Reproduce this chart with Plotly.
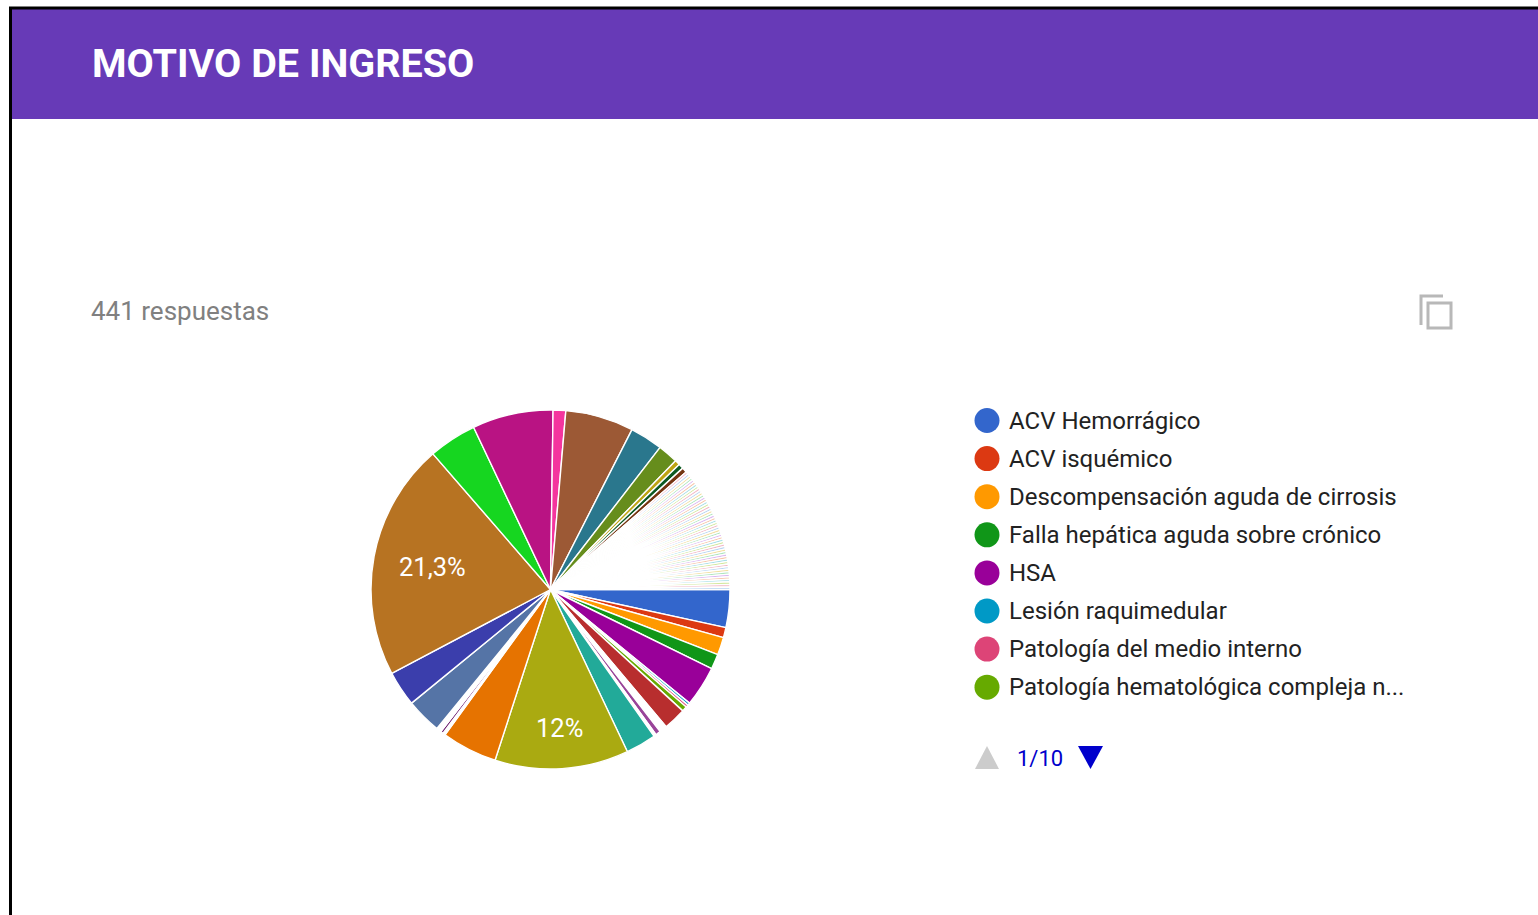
import math
import plotly.graph_objects as go

TITLE = "MOTIVO DE INGRESO"
RESPONSES = "441 respuestas"
PAGER = "1/10"

# Named legend entries (first page of ten)
legend_labels = ["ACV Hemorrágico", "ACV isquémico", "Descompensación aguda de cirrosis",
                 "Falla hepática aguda sobre crónico", "HSA", "Lesión raquimedular",
                 "Patología del medio interno", "Patología hematológica compleja n..."]
legend_colors = ["#3366cc", "#dc3912", "#ff9900", "#109618", "#990099", "#0099c6", "#dd4477", "#66aa00"]

# Response counts, clockwise from 3 o'clock
head_values = [15, 4, 7, 6, 16, 1, 1, 2, 9, 3, 2, 1, 12, 53, 22, 1, 1, 2, 14, 14, 94, 19, 32, 5, 27, 13, 8, 2, 2, 2]
head_colors = ["#3366cc", "#dc3912", "#ff9900", "#109618", "#990099", "#0099c6", "#dd4477", "#66aa00",
               "#b82e2e", "#ffffff", "#994499", "#ffffff", "#22aa99", "#aaaa11", "#e67300", "#ffffff",
               "#651067", "#ffffff", "#5574a6", "#3b3eac", "#b77322", "#16d620", "#b91383", "#f4359e",
               "#9c5935", "#2a778d", "#668d1c", "#bea413", "#0c5922", "#743411"]
# slice colour -> (label, distance of the label from the centre as a share of the radius)
head_text = {"#aaaa11": ("12%", 0.775), "#b77322": ("21,3%", 0.67)}

# Long tail of single answers
tail_values = [1, 1, 1, 1, 1, 1, 1, 1, 1, 1, 1, 1, 1, 1, 1, 1, 1, 1, 1, 1, 1, 1, 1, 1, 1,
               1, 1, 1, 1, 1, 1, 1, 1, 1, 1, 1, 1, 1, 1, 1, 1, 1, 1, 1, 1, 1, 1, 1, 1, 1]
tail_palette = ["#f2b8c6", "#b8d4f2", "#f2dfa0", "#b0e6c0", "#dcb8f2", "#f7c4a8", "#a8dfe8", "#d4e8a0"]

values = head_values + tail_values
colors = head_colors + [tail_palette[i % len(tail_palette)] for i in range(len(tail_values))]
labels = [f"Respuesta {i + 1}" for i in range(len(values))]
for i, name in zip(range(8), legend_labels):
    labels[i] = name

W, H = 1538, 915
FONT = "Roboto"
PIE_L, PIE_R, PIE_T, PIE_B = 371, 730, 410, 769
LEG_X, LEG_TEXT_X, LEG_TOP, LEG_STEP = 987, 1007, 420.5, 38.1
TEXT_PAD = 2

fig = go.Figure()
fig.add_trace(go.Pie(
    labels=labels, values=values, textinfo="none", sort=False, direction="clockwise",
    rotation=90, showlegend=False, hoverinfo="label+percent",
    marker=dict(colors=colors, line=dict(color="#ffffff", width=1.4)),
    domain=dict(x=[PIE_L / W, PIE_R / W], y=[1 - PIE_B / H, 1 - PIE_T / H]),
))
leg_y = [LEG_TOP + i * LEG_STEP for i in range(len(legend_labels))]
fig.add_trace(go.Scatter(x=[LEG_X] * len(leg_y), y=leg_y, mode="markers", showlegend=False, hoverinfo="skip",
                         marker=dict(size=25, color=legend_colors, line=dict(width=0))))

shapes = [
    dict(type="rect", x0=12, x1=W, y0=9, y1=119, fillcolor="#673ab7", line_width=0, layer="below"),
    dict(type="line", x0=10.5, x1=10.5, y0=7, y1=H, line=dict(color="#000000", width=3), layer="below"),
    dict(type="line", x0=9, x1=W, y0=8, y1=8, line=dict(color="#000000", width=3), layer="below"),
    dict(type="path", path="M 1421 325 L 1421 296 L 1443 296", line=dict(color="#b8b8b8", width=3), layer="below"),
    dict(type="rect", x0=1428, x1=1451, y0=303, y1=328, line=dict(color="#b8b8b8", width=3), layer="below"),
    dict(type="path", path="M 975 769 L 987 746 L 999 769 Z", fillcolor="#cccccc", line_width=0),
    dict(type="path", path="M 1078 746 L 1103 746 L 1090.5 769 Z", fillcolor="#0000cc", line_width=0),
]
ann = [
    dict(x=92 - TEXT_PAD, y=63.5, text=TITLE, font=dict(family=FONT, size=39.5, color="#ffffff", weight=700)),
    dict(x=91 - TEXT_PAD, y=311, text=RESPONSES, font=dict(family=FONT, size=26, color="#808080")),
    dict(x=1017 - TEXT_PAD, y=758, text=PAGER, font=dict(family=FONT, size=22, color="#0000cc")),
]
for lab, y in zip(legend_labels, leg_y):
    ann.append(dict(x=LEG_TEXT_X, y=y, text=lab, font=dict(family=FONT, size=24, color="#222222")))
for a in ann:
    a.update(xanchor="left")

# Slice labels, placed from the slice's mid-angle
total = sum(values)
cx, cy, radius = (PIE_L + PIE_R) / 2, (PIE_T + PIE_B) / 2, (PIE_R - PIE_L) / 2
cum = 0
for v, c in zip(head_values, head_colors):
    if c in head_text:
        txt, share = head_text[c]
        ang = math.radians(90 + (cum + v / 2) / total * 360)
        ann.append(dict(x=cx + share * radius * math.sin(ang), y=cy - share * radius * math.cos(ang),
                        text=txt, xanchor="center",
                        font=dict(family=FONT, size=25.5, color="#ffffff")))
    cum += v
for a in ann:
    a.update(xref="x", yref="y", yanchor="middle", showarrow=False)

fig.update_layout(
    width=W, height=H, margin=dict(l=0, r=0, t=0, b=0),
    paper_bgcolor="#ffffff", plot_bgcolor="#ffffff",
    xaxis=dict(range=[0, W], visible=False, fixedrange=True),
    yaxis=dict(range=[H, 0], visible=False, fixedrange=True),
    shapes=shapes, annotations=ann,
)
fig.write_html("out.html", config=dict(displayModeBar=False),
               post_script="document.body.style.margin='0';document.body.style.overflow='hidden';")
